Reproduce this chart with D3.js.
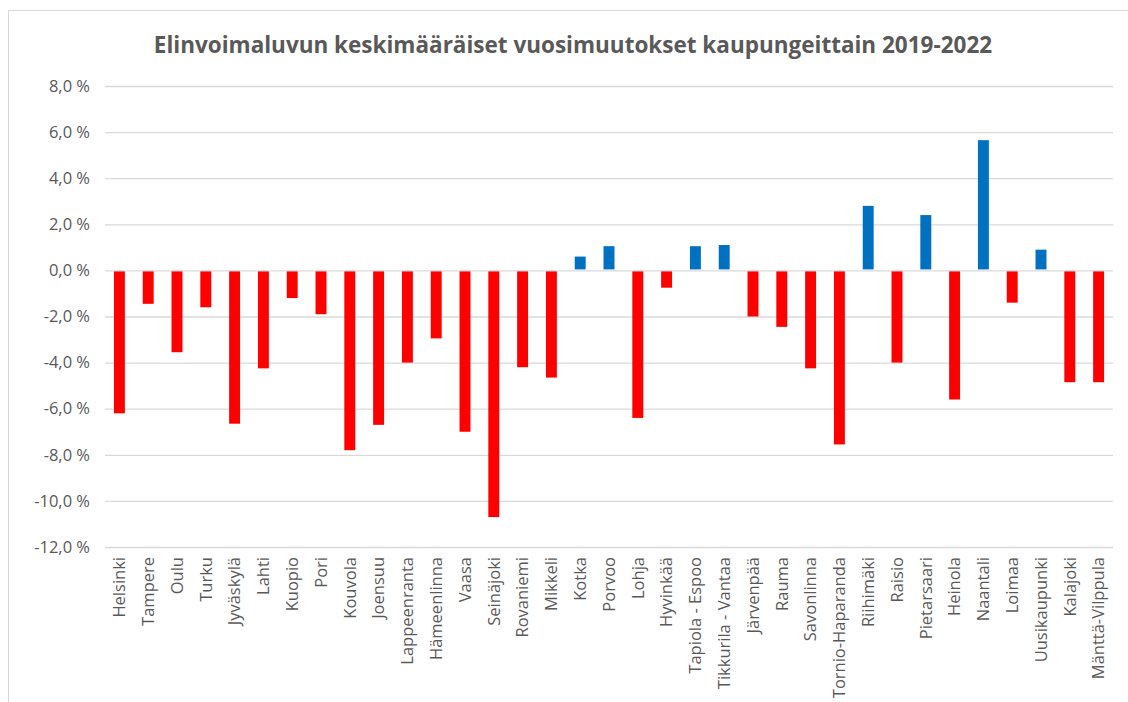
<!DOCTYPE html>
<html>
<head>
<meta charset="utf-8">
<script src="https://cdn.jsdelivr.net/npm/d3@7"></script>
<style>
  body { margin: 0; background: #fff; }
  svg { display: block; font-family: "Open Sans", sans-serif; }
</style>
</head>
<body>
<div id="container"></div>
<script>
const cities = ["Helsinki", "Tampere", "Oulu", "Turku", "Jyväskylä", "Lahti", "Kuopio", "Pori",
    "Kouvola", "Joensuu", "Lappeenranta", "Hämeenlinna", "Vaasa", "Seinäjoki", "Rovaniemi",
    "Mikkeli", "Kotka", "Porvoo", "Lohja", "Hyvinkää", "Tapiola - Espoo", "Tikkurila - Vantaa",
    "Järvenpää", "Rauma", "Savonlinna", "Tornio-Haparanda", "Riihimäki", "Raisio", "Pietarsaari",
    "Heinola", "Naantali", "Loimaa", "Uusikaupunki", "Kalajoki", "Mänttä-Vilppula"]

// average yearly change, %
const changes = [-6.2, -1.45, -3.55, -1.6, -6.65, -4.25, -1.2, -1.9,
    -7.8, -6.7, -4.0, -2.95, -7.0, -10.7, -4.2,
    -4.65, 0.6, 1.05, -6.4, -0.75, 1.05, 1.1,
    -2.0, -2.45, -4.25, -7.55, 2.8, -4.0, 2.4,
    -5.6, 5.65, -1.4, 0.9, -4.85, -4.85]

const yTicks = [8, 6, 4, 2, 0, -2, -4, -6, -8, -10, -12]

const title = "Elinvoimaluvun keskimääräiset vuosimuutokset kaupungeittain 2019-2022"

const width = 1128
const height = 702
const margin = { left: 105, top: 86, right: 15, bottom: 155 }

const svg = d3.select('#container')
    .append('svg').attr('width', width).attr('height', height)

// chart border
svg.append("rect")
    .attr("x", 8.5).attr("y", 10.5)
    .attr("width", width + 20).attr("height", height + 20)
    .attr("fill", "none").attr("stroke", "#d9d9d9")

svg.append("text")
    .attr("x", 573).attr("y", 53)
    .attr("text-anchor", "middle")
    .attr("font-size", 22.5)
    .attr("font-weight", "bold")
    .attr("fill", "#595959")
    .text(title)

const x = d3.scaleBand()
    .domain(cities)
    .range([margin.left, width - margin.right])
    .paddingInner(0.62)
    .paddingOuter(0.31)

const y = d3.scaleLinear()
    .domain([-12, 8])
    .range([height - margin.bottom, margin.top])

const fmt = v => d3.format(".1f")(v).replace(".", ",").replace("−", "-") + " %"

const yAxis = svg.append("g")
    .attr("transform", `translate(${margin.left},0)`)
    .call(d3.axisLeft(y).tickValues(yTicks).tickSize(-(width - margin.left - margin.right)).tickFormat(fmt))
yAxis.select(".domain").remove()
yAxis.selectAll(".tick line").attr("stroke", "#d9d9d9").attr("stroke-width", 1.3)
yAxis.selectAll(".tick text")
    .attr("x", -15)
    .attr("font-size", 16.5)
    .attr("fill", "#595959")
    .attr("font-family", "Open Sans, sans-serif")

svg.selectAll(".bar")
    .data(changes)
    .enter().append("rect")
    .attr("class", "bar")
    .attr("x", (d, i) => x(cities[i]))
    .attr("width", x.bandwidth())
    .attr("y", d => d >= 0 ? y(d) : y(0) + 1)
    .attr("height", d => Math.abs(y(d) - y(0)) - 1)
    .attr("fill", d => d >= 0 ? "#0070c0" : "#ff0000")

const xAxis = svg.append("g")
    .attr("transform", `translate(0,${height - margin.bottom})`)
    .call(d3.axisBottom(x).tickSize(0))
xAxis.select(".domain").remove()
xAxis.selectAll(".tick text")
    .attr("transform", "rotate(-90)")
    .attr("text-anchor", "end")
    .attr("x", -10)
    .attr("y", 0)
    .attr("dy", "0.35em")
    .attr("font-size", 16.5)
    .attr("fill", "#595959")
    .attr("font-family", "Open Sans, sans-serif")
</script>
</body>
</html>
